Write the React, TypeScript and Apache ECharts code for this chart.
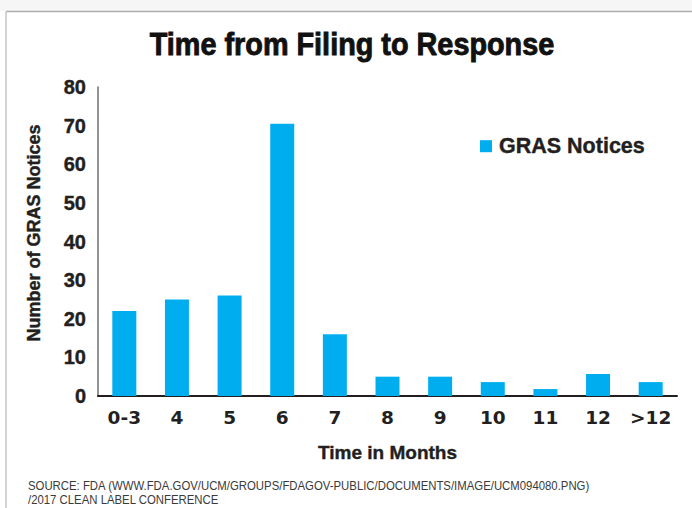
import React, { useEffect, useRef } from "react";
import * as echarts from "echarts";

const categories = ["0-3", "4", "5", "6", "7", "8", "9", "10", "11", "12", ">12"];
const notices = [22, 25, 26, 70.5, 16, 5, 5, 3.6, 1.8, 5.7, 3.6];
const yTicks = [0, 10, 20, 30, 40, 50, 60, 70, 80];
const titleText = "Time from Filing to Response";
const seriesName = "GRAS Notices";
const xName = "Time in Months";
const yName = "Number of GRAS Notices";
const sourceLines = [
  "SOURCE: FDA (WWW.FDA.GOV/UCM/GROUPS/FDAGOV-PUBLIC/DOCUMENTS/IMAGE/UCM094080.PNG)",
  "/2017 CLEAN LABEL CONFERENCE",
];

const FONT = "'Liberation Sans', Arial, Helvetica, sans-serif";
const WIDE = "'DejaVu Sans', 'Liberation Sans', sans-serif";
const DARK = "#231f20";

export default function App() {
  const ref = useRef<HTMLDivElement>(null);
  useEffect(() => {
    if (!ref.current) return;
    const chart = echarts.init(ref.current, undefined, { renderer: "svg" });
    chart.setOption({
      animation: false,
      backgroundColor: "#ffffff",
      textStyle: { fontFamily: FONT },
      graphic: [
        { type: "rect", shape: { x: 0, y: 0, width: 692, height: 11 }, style: { fill: "#f6f6f6" }, silent: true },
        { type: "line", shape: { x1: 6, y1: 11.5, x2: 692, y2: 11.5 }, style: { stroke: "#adadad", lineWidth: 1.5 }, silent: true },
        { type: "line", shape: { x1: 6, y1: 11.5, x2: 6, y2: 508 }, style: { stroke: "#c4c4c4", lineWidth: 1.5 }, silent: true },
        {
          type: "text",
          x: 352,
          y: 44,
          scaleX: 0.93,
          style: {
            text: titleText,
            fontFamily: FONT,
            fontWeight: "bold",
            fontSize: 31,
            fill: "#111111",
            stroke: "#111111",
            lineWidth: 0.9,
            align: "center",
            verticalAlign: "middle",
          },
        },
        {
          type: "text",
          x: 33.5,
          y: 233,
          rotation: Math.PI / 2,
          style: {
            text: yName,
            fontFamily: FONT,
            fontWeight: "bold",
            fontSize: 18,
            fill: DARK,
            stroke: DARK,
            lineWidth: 0.4,
            align: "center",
            verticalAlign: "middle",
          },
        },
        {
          type: "text",
          x: 28,
          y: 486,
          scaleX: 0.91,
          style: {
            text: sourceLines[0],
            fontFamily: FONT,
            fontSize: 12.5,
            fill: "#3a3a3a",
            align: "left",
            verticalAlign: "middle",
          },
        },
        {
          type: "text",
          x: 28,
          y: 500,
          scaleX: 0.91,
          style: {
            text: sourceLines[1],
            fontFamily: FONT,
            fontSize: 12.5,
            fill: "#3a3a3a",
            align: "left",
            verticalAlign: "middle",
          },
        },
      ],
      legend: {
        left: 475,
        top: 130,
        itemWidth: 12,
        itemHeight: 12,
        itemGap: 10,
        icon: "rect",
        data: [seriesName],
        textStyle: {
          fontFamily: FONT,
          fontWeight: "bold",
          fontSize: 21.5,
          color: DARK,
          textBorderColor: DARK,
          textBorderWidth: 0.4,
          padding: [0, 0, 0, 2],
        },
      },
      grid: { left: 98, right: 15, top: 87, bottom: 112, containLabel: false },
      xAxis: {
        type: "category",
        data: categories,
        name: xName,
        nameLocation: "middle",
        nameGap: 47,
        nameTextStyle: {
          fontFamily: FONT,
          fontWeight: "bold",
          fontSize: 19,
          color: DARK,
          textBorderColor: DARK,
          textBorderWidth: 0.4,
        },
        axisLine: { show: true, lineStyle: { color: DARK, width: 2 } },
        axisTick: { show: false },
        axisLabel: {
          interval: 0,
          hideOverlap: false,
          fontFamily: WIDE,
          fontWeight: "bold",
          fontSize: 18.5,
          color: DARK,
          margin: 12,
        },
      },
      yAxis: {
        type: "value",
        min: yTicks[0],
        max: yTicks[yTicks.length - 1],
        interval: yTicks[1] - yTicks[0],
        axisLine: { show: true, lineStyle: { color: "#6d6e71", width: 1.5 } },
        axisTick: { show: false },
        splitLine: { show: false },
        axisLabel: {
          fontFamily: FONT,
          fontWeight: "bold",
          fontSize: 20,
          color: DARK,
          textBorderColor: DARK,
          textBorderWidth: 0.4,
          margin: 12,
        },
      },
      series: [
        {
          name: seriesName,
          type: "bar",
          data: notices,
          barWidth: 24,
          itemStyle: { color: "#00aeef" },
        },
      ],
    });
    return () => chart.dispose();
  }, []);
  return (
    <div
      ref={ref}
      style={{ position: "fixed", left: 0, top: 0, width: 692, height: 508 }}
    />
  );
}
